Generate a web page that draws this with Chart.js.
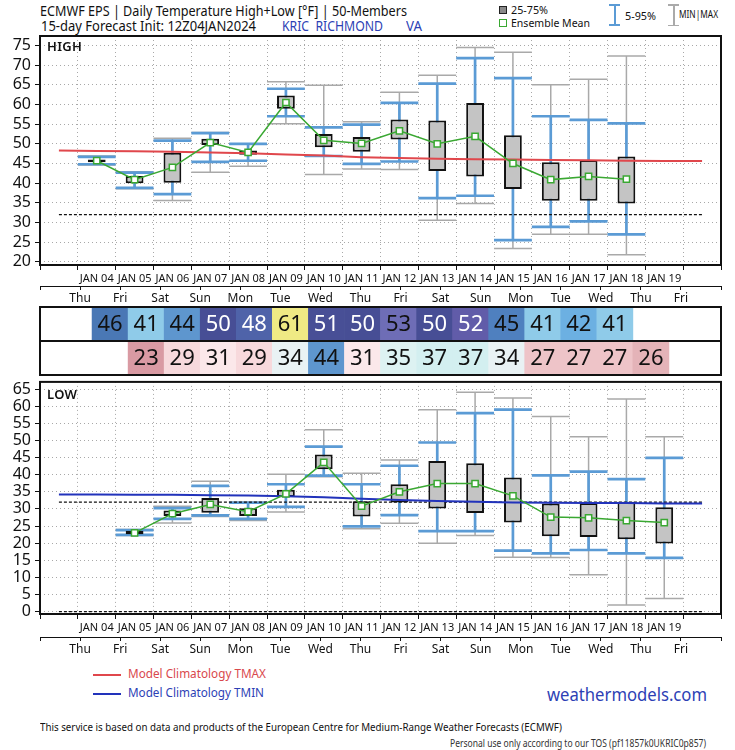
<!DOCTYPE html>
<html><head><meta charset="utf-8">
<script src="https://cdn.jsdelivr.net/npm/chart.js@4.4.1/dist/chart.umd.min.js"></script>
<style>
html,body{margin:0;padding:0;background:#fff;}
body{width:735px;height:750px;position:relative;overflow:hidden;font-family:"Noto Sans","Open Sans",sans-serif;color:#111;}
.t{position:absolute;white-space:nowrap;line-height:1;transform-origin:0 50%;}
canvas{position:absolute;left:0;}
</style></head><body>
<div class="t" data-w="367" style="left:40px;top:4px;font-size:14px;">ECMWF EPS | Daily Temperature High+Low [°F] | 50-Members</div>
<div class="t" data-w="215" style="left:41px;top:19px;font-size:14px;">15-day Forecast Init: 12Z04JAN2024</div>
<div class="t" data-w="101" style="left:282px;top:19px;font-size:14px;color:#2d3fb5;">KRIC&nbsp; RICHMOND</div>
<div class="t" data-w="16" style="left:406px;top:19px;font-size:14px;color:#2d3fb5;">VA</div>

<div style="position:absolute;left:499px;top:6px;width:6px;height:6px;background:#8a8a8a;border:1.5px solid #222;"></div>
<div class="t" data-w="37" style="left:511px;top:4px;font-size:11px;">25-75%</div>
<div style="position:absolute;left:499px;top:19px;width:6px;height:6px;border:1.5px solid #3aa832;"></div>
<div class="t" data-w="79" style="left:511px;top:17px;font-size:11px;">Ensemble Mean</div>
<div style="position:absolute;left:609px;top:4px;width:11px;height:2px;background:#5b9bd5;"></div>
<div style="position:absolute;left:613.5px;top:4px;width:2px;height:22px;background:#5b9bd5;"></div>
<div style="position:absolute;left:609px;top:24px;width:11px;height:2px;background:#5b9bd5;"></div>
<div class="t" data-w="31" style="left:625px;top:10px;font-size:11px;">5-95%</div>
<div style="position:absolute;left:668px;top:4px;width:11px;height:1.5px;background:#aaa;"></div>
<div style="position:absolute;left:673px;top:4px;width:1.5px;height:22px;background:#aaa;"></div>
<div style="position:absolute;left:668px;top:24.5px;width:11px;height:1.5px;background:#aaa;"></div>
<div class="t" data-w="39" style="left:679px;top:9px;font-size:10.5px;">MIN|MAX</div>

<canvas id="cHigh" width="735" height="280" style="top:26px"></canvas>
<canvas id="cTable" width="735" height="70" style="top:306px"></canvas>
<canvas id="cLow" width="735" height="281" style="top:376px"></canvas>

<div class="t" style="left:47px;top:40px;font-size:13px;font-weight:600;letter-spacing:0.3px;">HIGH</div>
<div class="t" style="left:47px;top:388px;font-size:13px;font-weight:600;letter-spacing:0.3px;">LOW</div>

<div style="position:absolute;left:93px;top:674px;width:28px;height:2px;background:#e0474c;"></div>
<div class="t" data-w="138" style="left:128px;top:668px;font-size:12.5px;color:#d9484d;">Model Climatology TMAX</div>
<div style="position:absolute;left:93px;top:693px;width:28px;height:2px;background:#2233bb;"></div>
<div class="t" data-w="136" style="left:128px;top:687px;font-size:12.5px;color:#2d3fb5;">Model Climatology TMIN</div>
<div class="t" data-w="160" style="left:547px;top:685px;font-size:18px;color:#2d3fb5;">weathermodels.com</div>
<div class="t" data-w="522" style="left:40px;top:721px;font-size:11px;">This service is based on data and products of the European Centre for Medium-Range Weather Forecasts (ECMWF)</div>
<div class="t" data-w="256" style="left:450px;top:738px;font-size:10px;color:#333;">Personal use only according to our TOS (pf11857k0UKRIC0p857)</div>

<script>
// ---------- data ----------
const DATES = ['JAN 04','JAN 05','JAN 06','JAN 07','JAN 08','JAN 09','JAN 10','JAN 11','JAN 12','JAN 13','JAN 14','JAN 15','JAN 16','JAN 17','JAN 18','JAN 19'];
const WEEKDAYS = ['Thu','Fri','Sat','Sun','Mon','Tue','Wed','Thu','Fri','Sat','Sun','Mon','Tue','Wed','Thu','Fri'];

const HI_MIN  = [44.6, 38.6, 35.6, 42.8, 44.3, 55.1, 42.2, 43.6, 43.5, 30.6, 34.8, 23.4, 27.0, 27.0, 21.8, null];
const HI_P5   = [44.8, 38.8, 37.2, 45.4, 45.7, 57.0, 46.9, 44.9, 45.5, 36.2, 36.8, 25.5, 28.9, 30.3, 27.0, null];
const HI_Q25  = [45.3, 40.0, 40.1, 49.7, 47.2, 58.9, 49.1, 48.0, 51.1, 43.1, 41.7, 38.5, 35.5, 35.5, 34.8, null];
const HI_MEAN = [45.7, 40.9, 44.0, 50.3, 47.8, 60.5, 50.9, 50.1, 53.3, 50.0, 51.9, 45.0, 40.9, 41.7, 41.0, null];
const HI_Q75  = [46.0, 41.8, 47.7, 51.3, 48.3, 62.3, 52.5, 51.7, 56.2, 55.9, 60.4, 52.2, 45.3, 45.9, 46.8, null];
const HI_P95  = [46.7, 42.7, 50.8, 52.7, 50.0, 64.0, 54.2, 54.9, 60.4, 65.3, 71.8, 66.7, 57.0, 56.1, 55.2, null];
const HI_MAX  = [46.9, 42.9, 51.4, 52.9, 50.0, 65.8, 64.9, 55.6, 63.1, 67.4, 74.5, 73.3, 65.0, 66.4, 72.3, null];

const LO_MIN  = [null, 22.2, 25.9, 27.8, 26.6, 29.1, 39.4, 24.2, 25.8, 20.0, 22.2, 15.9, 15.8, 10.8, 1.9, 3.8];
const LO_P5   = [null, 22.4, 27.1, 28.1, 27.1, 30.6, 39.7, 24.9, 28.2, 23.5, 23.5, 17.8, 17.0, 18.0, 17.0, 15.7];
const LO_Q25  = [null, 22.6, 27.9, 28.9, 27.9, 33.5, 41.6, 27.8, 31.9, 30.1, 28.8, 26.0, 22.0, 21.8, 21.1, 19.9];
const LO_MEAN = [null, 23.0, 28.6, 31.3, 29.2, 34.4, 43.6, 30.8, 35.0, 37.4, 37.4, 33.8, 27.6, 27.4, 26.6, 26.0];
const LO_Q75  = [null, 23.6, 29.5, 33.2, 30.2, 35.6, 45.9, 32.2, 37.2, 44.0, 43.3, 39.2, 31.6, 31.7, 32.1, 30.5];
const LO_P95  = [null, 23.8, 30.2, 36.7, 31.8, 37.2, 48.2, 37.2, 42.6, 49.4, 58.0, 59.0, 39.8, 40.9, 38.7, 44.9];
const LO_MAX  = [null, 24.0, 30.8, 38.1, 32.0, 40.1, 53.1, 40.4, 44.3, 59.0, 64.1, 62.4, 57.0, 51.1, 62.1, 51.1];

// model climatology, read at day positions -1 .. 16 (plot edge to plot edge)
const CLIM_X    = [-1, 0, 1, 2, 3, 4, 5, 6, 7, 8, 9, 10, 11, 12, 13, 14, 15, 16];
const CLIM_TMAX = [48.3, 48.2, 48.1, 48.0, 47.8, 47.6, 47.3, 47.0, 46.6, 46.4, 46.2, 46.1, 46.0, 45.9, 45.8, 45.7, 45.65, 45.6];
const CLIM_TMIN = [34.2, 34.2, 34.1, 34.1, 34.0, 33.9, 33.7, 33.4, 33.0, 32.6, 32.3, 32.1, 31.9, 31.8, 31.7, 31.7, 31.6, 31.6];

const TABLE_HIGH = [46, 41, 44, 50, 48, 61, 51, 50, 53, 50, 52, 45, 41, 42, 41, null];
const TABLE_LOW  = [null, 23, 29, 31, 29, 34, 44, 31, 35, 37, 37, 34, 27, 27, 27, 26];

const FREEZING = 32;
const HI_TICK_STEP = 5;
const LO_TICK_STEP = 5;

// fit header/footer text runs to the reference widths
document.querySelectorAll('[data-w]').forEach(el=>{
  const w = el.getBoundingClientRect().width, target = +el.dataset.w;
  if (w > 0) el.style.transform = 'scaleX(' + (target / w) + ')';
});

// ---------- styles ----------
const FONT = '"Noto Sans","Open Sans",sans-serif';
const C_BOX = '#c4c4c4', C_BLUE = '#5b9bd5', C_GRAY = '#a9a9a9', C_GREEN = '#3aa832';
const C_TMAX = '#e0474c', C_TMIN = '#2233bb', C_GRID = '#a8a8a8';
const CAP_HALF = 0.5;
// temperature colour scale for the table
const PALETTE = [
  [23,'#d99aa3'],[26,'#e4b3b8'],[27,'#eec4c8'],[29,'#f7d9dc'],[31,'#fbe8ea'],[34,'#e9f2f4'],
  [35,'#ddf2f2'],[37,'#d3eff0'],[41,'#8fcbe9'],[42,'#6cb0e2'],[44,'#5e96ce'],[45,'#4f80bf'],
  [46,'#4a78b5'],[48,'#4f63a9'],[50,'#474e95'],[51,'#484f96'],[52,'#615ca9'],[53,'#6e6db6'],[61,'#efea84']
];
function colorFor(t){
  let best = PALETTE[0], d = Infinity;
  for (const p of PALETTE){ const dd = Math.abs(p[0]-t); if (dd < d){ d = dd; best = p; } }
  return best[1];
}
function textFor(t){ return (t >= 47.5 && t <= 52.5) ? '#ffffff' : '#111111'; }

// ---------- builders ----------
function whisker(lo, hi){
  const pts = [];
  lo.forEach((v,i)=>{
    if (v == null) return;
    pts.push({x:i, y:v}, {x:i, y:hi[i]}, {x:i, y:null});
    pts.push({x:i-CAP_HALF, y:v}, {x:i+CAP_HALF, y:v}, {x:i, y:null});
    pts.push({x:i-CAP_HALF, y:hi[i]}, {x:i+CAP_HALF, y:hi[i]}, {x:i, y:null});
  });
  return pts;
}
function boxes(q25, q75){
  const pts = [];
  q25.forEach((v,i)=>{ if (v != null) pts.push({x:i, y:[v, q75[i]]}); });
  return pts;
}
function meanPts(m){ const p=[]; m.forEach((v,i)=>{ if (v!=null) p.push({x:i,y:v}); }); return p; }
function climPts(c){ return c.map((v,k)=>({x:CLIM_X[k], y:v})); }
function hLine(v){ return [{x:-1,y:v},{x:16,y:v}]; }

const framePlugin = {
  id:'frame',
  afterDatasetsDraw(chart){
    const a = chart.chartArea, ctx = chart.ctx;
    ctx.save(); ctx.strokeStyle = '#111'; ctx.lineWidth = 2;
    ctx.strokeRect(a.left, a.top, a.right-a.left, a.bottom-a.top);
    ctx.restore();
  }
};

function panel(id, cfg){
  const datasets = [
    {type:'line', data: meanPts(cfg.mean), borderColor:C_GREEN, borderWidth:1.5, pointStyle:'rect',
      pointRadius:4.4, pointBackgroundColor:'#fff', pointBorderColor:C_GREEN, pointBorderWidth:1.5, order:0},
    {type:'line', data: climPts(cfg.clim), borderColor:cfg.climColor, borderWidth:2, pointRadius:0, order:1},
    {type:'bar', data: boxes(cfg.q25, cfg.q75), backgroundColor:C_BOX, borderColor:'#111', borderWidth:2,
      borderSkipped:false, barPercentage:0.47, categoryPercentage:1, order:2},
    {type:'line', data: hLine(FREEZING), borderColor:'#111', borderWidth:1.3, borderDash:[3,2], pointRadius:0, order:3},
    {type:'line', data: whisker(cfg.p5, cfg.p95), borderColor:C_BLUE, borderWidth:2.7, pointRadius:0, spanGaps:false, order:4},
    {type:'line', data: whisker(cfg.min, cfg.max), borderColor:C_GRAY, borderWidth:1.5, pointRadius:0, spanGaps:false, order:5},
  ];
  if (cfg.extraZero) datasets.push({type:'line', data: hLine(0), borderColor:'#111', borderWidth:1.3, borderDash:[3,2], pointRadius:0, order:3});
  return new Chart(document.getElementById(id), {
    data:{datasets},
    options:{
      responsive:false, animation:false, events:[],
      layout:{padding:{top:cfg.padTop, right:14, left:0, bottom:0}},
      plugins:{legend:{display:false}, tooltip:{enabled:false}},
      scales:{
        x:{type:'linear', min:-1, max:16, weight:0,
          grid:{color:C_GRID, lineWidth:1, drawTicks:true, tickLength:5, tickColor:'#111', tickBorderDash:[], tickWidth:1},
          border:{display:true, color:'#111', width:1, dash:[1,3]},
          ticks:{stepSize:1, autoSkip:false, maxTicksLimit:30, maxRotation:0, padding:2, color:'#111', font:{family:FONT, size:11},
            callback:(v)=> (v>=0 && v<DATES.length) ? DATES[v] : ''},
          afterFit:(s)=>{ s.height = cfg.xaH; s.paddingLeft = 0; s.paddingRight = 0; }
        },
        x2:{type:'linear', position:'bottom', min:-1, max:16, weight:1,
          grid:{drawOnChartArea:false, drawTicks:true, tickLength:4, color:'#111'},
          border:{display:true, color:'#111', width:1},
          ticks:{stepSize:1, autoSkip:false, maxTicksLimit:30, maxRotation:0, padding:1, color:'#111', font:{family:FONT, size:12},
            callback:(v)=> (v>=0 && v<WEEKDAYS.length) ? WEEKDAYS[v] : ''},
          afterFit:(s)=>{ s.height = cfg.xbH; s.paddingLeft = 0; s.paddingRight = 0; }
        },
        y:{type:'linear', min:cfg.yMin, max:cfg.yMax,
          grid:{color:C_GRID, drawTicks:true, tickLength:5, tickColor:'#111', tickBorderDash:[]},
          border:{display:false, dash:[1,3]},
          ticks:{stepSize:cfg.step, includeBounds:false, maxTicksLimit:30, autoSkip:false, padding:4, color:'#111', font:{family:FONT, size:16}},
          afterFit:(s)=>{ s.width = 40; s.paddingTop = 0; s.paddingBottom = 0; }
        }
      }
    },
    plugins:[framePlugin]
  });
}

panel('cHigh', {mean:HI_MEAN, q25:HI_Q25, q75:HI_Q75, p5:HI_P5, p95:HI_P95, min:HI_MIN, max:HI_MAX,
  clim:CLIM_TMAX, climColor:C_TMAX, step:HI_TICK_STEP, yMin:19.2, yMax:77.4, padTop:10, xaH:21, xbH:20});
panel('cLow', {mean:LO_MEAN, q25:LO_Q25, q75:LO_Q75, p5:LO_P5, p95:LO_P95, min:LO_MIN, max:LO_MAX,
  clim:CLIM_TMIN, climColor:C_TMIN, step:LO_TICK_STEP, yMin:-0.7, yMax:67.1, padTop:5, xaH:23, xbH:20, extraZero:true});

// ---------- table ----------
function cells(vals, row){
  const p = []; vals.forEach((v,i)=>{ if (v!=null) p.push({x:i, y:[row, row+1], t:v}); }); return p;
}
const tablePlugin = {
  id:'tableText',
  afterDatasetsDraw(chart){
    const ctx = chart.ctx, xs = chart.scales.x, ys = chart.scales.y, a = chart.chartArea;
    ctx.save();
    ctx.font = '22px ' + FONT; ctx.textAlign = 'center'; ctx.textBaseline = 'middle';
    [[TABLE_HIGH,1.5],[TABLE_LOW,0.5]].forEach(([vals,yv])=>{
      vals.forEach((v,i)=>{ if (v==null) return; ctx.fillStyle = textFor(v);
        ctx.fillText(String(v), xs.getPixelForValue(i), ys.getPixelForValue(yv)+1); });
    });
    ctx.strokeStyle = '#111'; ctx.lineWidth = 2;
    ctx.strokeRect(a.left, a.top, a.right-a.left, a.bottom-a.top);
    ctx.beginPath(); ctx.moveTo(a.left, ys.getPixelForValue(1)); ctx.lineTo(a.right, ys.getPixelForValue(1)); ctx.stroke();
    ctx.restore();
  }
};
new Chart(document.getElementById('cTable'), {
  type:'bar',
  data:{datasets:[
    {data:cells(TABLE_HIGH,1), backgroundColor:(c)=> c.raw ? colorFor(c.raw.t) : '#fff', grouped:false, barPercentage:1, categoryPercentage:1, borderWidth:0},
    {data:cells(TABLE_LOW,0), backgroundColor:(c)=> c.raw ? colorFor(c.raw.t) : '#fff', grouped:false, barPercentage:1, categoryPercentage:1, borderWidth:0}
  ]},
  options:{
    responsive:false, animation:false, events:[],
    layout:{padding:{top:1, right:14, left:40, bottom:1}},
    plugins:{legend:{display:false}, tooltip:{enabled:false}},
    scales:{
      x:{type:'linear', min:-1, max:16, display:false},
      y:{type:'linear', min:0, max:2, display:false}
    }
  },
  plugins:[tablePlugin]
});
</script>
</body></html>
